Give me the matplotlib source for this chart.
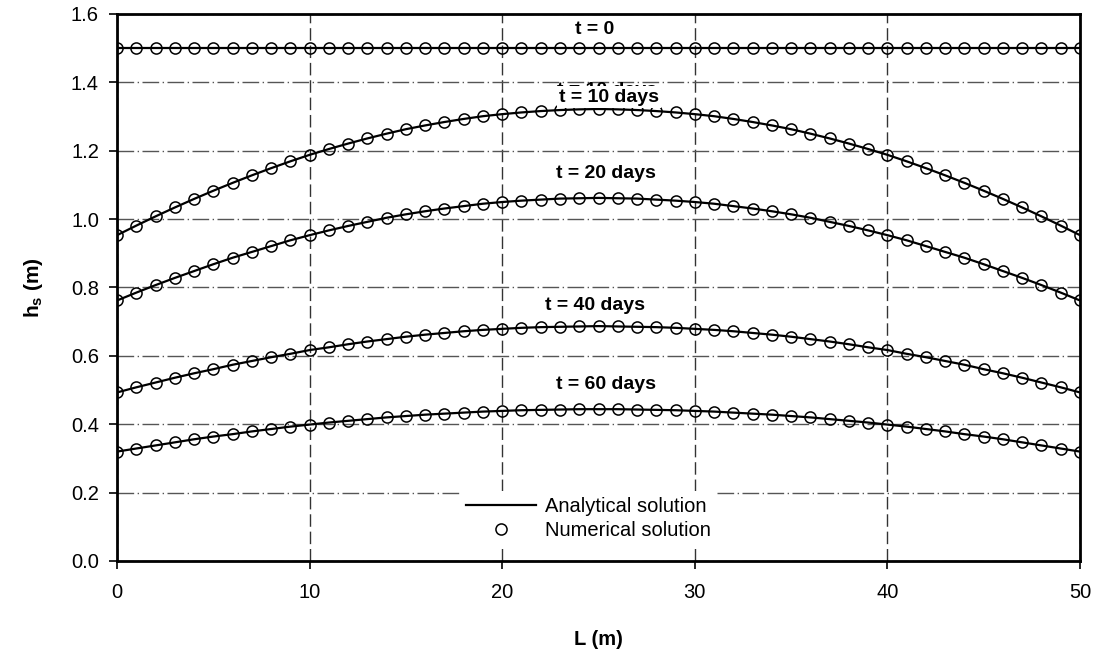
import matplotlib
matplotlib.use("Agg")
import matplotlib.pyplot as plt
import numpy as np

plt.rcParams['font.family'] = ['Liberation Sans', 'DejaVu Sans']
plt.rcParams['mathtext.fontset'] = 'custom'
plt.rcParams['mathtext.bf'] = 'Liberation Sans:bold'
plt.rcParams['mathtext.rm'] = 'Liberation Sans'

# distance along the section (m)
L = np.arange(0, 51)

# water table height h_s (m) at each time
h_t0 = [1.500] * 51
h_t10 = [0.953, 0.981, 1.008, 1.034, 1.059, 1.083, 1.106, 1.128, 1.149, 1.169,
         1.188, 1.205, 1.221, 1.236, 1.250, 1.263, 1.274, 1.284, 1.293, 1.301,
         1.307, 1.312, 1.316, 1.319, 1.321, 1.322, 1.321, 1.319, 1.316, 1.312,
         1.307, 1.301, 1.293, 1.284, 1.274, 1.263, 1.250, 1.236, 1.221, 1.205,
         1.188, 1.169, 1.149, 1.128, 1.106, 1.083, 1.059, 1.034, 1.008, 0.981,
         0.953]
h_t20 = [0.762, 0.785, 0.807, 0.828, 0.848, 0.868, 0.887, 0.904, 0.921, 0.938,
         0.953, 0.967, 0.980, 0.992, 1.004, 1.014, 1.023, 1.031, 1.038, 1.045,
         1.050, 1.054, 1.057, 1.060, 1.061, 1.062, 1.061, 1.060, 1.057, 1.054,
         1.050, 1.045, 1.038, 1.031, 1.023, 1.014, 1.004, 0.992, 0.980, 0.967,
         0.953, 0.938, 0.921, 0.904, 0.887, 0.868, 0.848, 0.828, 0.807, 0.785,
         0.762]
h_t40 = [0.493, 0.508, 0.522, 0.536, 0.549, 0.561, 0.574, 0.585, 0.596, 0.606,
         0.617, 0.625, 0.634, 0.642, 0.649, 0.656, 0.662, 0.667, 0.672, 0.676,
         0.679, 0.682, 0.684, 0.685, 0.686, 0.687, 0.686, 0.685, 0.684, 0.682,
         0.679, 0.676, 0.672, 0.667, 0.662, 0.656, 0.649, 0.642, 0.634, 0.625,
         0.617, 0.606, 0.596, 0.585, 0.574, 0.561, 0.549, 0.536, 0.522, 0.508,
         0.493]
h_t60 = [0.320, 0.329, 0.338, 0.347, 0.356, 0.364, 0.371, 0.379, 0.386, 0.393,
         0.399, 0.405, 0.410, 0.415, 0.420, 0.424, 0.428, 0.431, 0.434, 0.437,
         0.439, 0.441, 0.442, 0.443, 0.444, 0.444, 0.444, 0.443, 0.442, 0.441,
         0.439, 0.437, 0.434, 0.431, 0.428, 0.424, 0.420, 0.415, 0.410, 0.405,
         0.399, 0.393, 0.386, 0.379, 0.371, 0.364, 0.356, 0.347, 0.338, 0.329,
         0.320]

series = [h_t0, h_t10, h_t20, h_t40, h_t60]

# curve labels and where they sit
labels = ['t = 0', 't = 10 days', 't = 20 days', 't = 40 days', 't = 60 days']
label_x = [24.8, 25.55, 25.4, 24.8, 25.4]
label_y = [1.556, 1.357, 1.134, 0.746, 0.515]

fig = plt.figure(figsize=(10.98, 6.53), dpi=100)
ax = fig.add_axes([0.1066, 0.1409, 0.8770, 0.8377])

for i, h in enumerate(series):
    ax.plot(L, h, color='black', lw=1.6, zorder=3,
            label='Analytical solution' if i == 0 else None)
    ax.plot(L, h, linestyle='none', marker='o', ms=8, mfc='none',
            mec='black', mew=1.1, zorder=4,
            label='Numerical solution' if i == 0 else None)

# older label left underneath the t = 10 days one
ax.text(label_x[1] - 0.1, label_y[1] + 0.020, labels[1], ha='center',
        va='center', fontsize=14, fontweight='bold', zorder=5)
for i, (txt, x, y) in enumerate(zip(labels, label_x, label_y)):
    kw = {}
    if i == 1:
        kw['bbox'] = dict(facecolor='white', edgecolor='none', pad=1.5)
    ax.text(x, y, txt, ha='center', va='center', fontsize=14,
            fontweight='bold', zorder=6, **kw)

ax.set_xlim(0, 50)
ax.set_ylim(0, 1.6)
ax.set_xticks(np.arange(0, 51, 10))
ax.set_yticks(np.arange(0, 1.61, 0.2))
ax.set_yticklabels([f'{v:.1f}' for v in np.arange(0, 1.61, 0.2)])

ax.xaxis.grid(True, color='#333333', lw=1.0, linestyle=(0, (9, 3.5)), zorder=1)
ax.yaxis.grid(True, color='#555555', lw=1.0,
              linestyle=(0, (12, 2.5, 1, 2.5)), zorder=1)
ax.set_axisbelow(True)

for side in ['left', 'right', 'top', 'bottom']:
    ax.spines[side].set_linewidth(2)
ax.tick_params(axis='both', direction='out', length=6, width=1.2,
               labelsize=14.5)
ax.tick_params(axis='y', pad=7)
ax.tick_params(axis='x', pad=10)

ax.set_xlabel('L (m)', fontsize=14.5, fontweight='bold', labelpad=20)
ax.set_ylabel(r'$\mathbf{h_s}$ (m)', fontsize=15, fontweight='bold',
              labelpad=19)

leg = ax.legend(loc='upper left', bbox_to_anchor=(0.356, 0.128), fontsize=14.5,
                frameon=True, fancybox=False, framealpha=1,
                handlelength=3.5, handletextpad=0.45, labelspacing=0.25,
                borderpad=0.3, borderaxespad=0)
leg.get_frame().set_edgecolor('none')
leg.set_zorder(7)

fig.savefig('out.png', dpi=100)
